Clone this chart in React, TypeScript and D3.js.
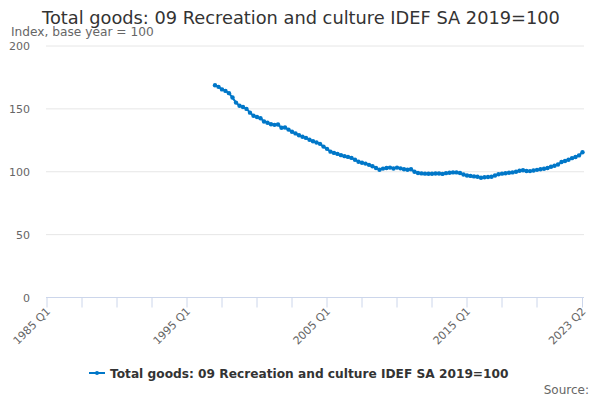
import { useMemo } from "react";
import * as d3 from "d3";

const W = 600;
const H = 400;

const TITLE = "Total goods: 09 Recreation and culture IDEF SA 2019=100";
const SUBTITLE = "Index, base year = 100";
const SERIES_NAME = "Total goods: 09 Recreation and culture IDEF SA 2019=100";

// quarter categories 1985 Q1 .. 2023 Q2
const quarters: string[] = [];
for (let y = 1985; y <= 2023; y++) {
  for (let q = 1; q <= 4; q++) {
    if (y === 2023 && q > 2) break;
    quarters.push(`${y} Q${q}`);
  }
}

const firstQuarter = "1997 Q1";

// index values, 1997 Q1 .. 2023 Q2
const values = [
  168.8, 167.5, 165.5, 164.3, 162.5, 159.0, 155.0, 152.5,
  151.5, 150.0, 147.0, 144.5, 143.5, 142.5, 140.0, 139.0,
  137.8, 137.3, 137.6, 135.0, 135.2, 133.5, 131.8, 130.5,
  129.0, 127.8, 126.9, 125.5, 124.2, 123.3, 122.2, 120.0,
  118.2, 116.0, 115.0, 114.2, 113.2, 112.4, 111.8, 111.0,
  109.6, 108.0, 107.2, 106.5, 105.5, 104.4, 103.0, 101.6,
  102.5, 103.0, 103.3, 102.6, 103.3, 102.7, 102.0, 101.6,
  102.0, 100.0, 99.0, 98.7, 98.5, 98.4, 98.4, 98.6,
  98.6, 98.3, 98.9, 99.2, 99.5, 99.5, 99.0, 97.8,
  97.0, 96.7, 96.3, 96.0, 95.2, 95.6, 95.8, 96.0,
  97.0, 98.0, 98.5, 98.8, 99.2, 99.5, 100.0, 100.8,
  101.2, 100.6, 100.5, 101.0, 101.5, 102.0, 102.4, 103.0,
  104.0, 104.8, 105.8, 107.8, 108.6, 109.5, 110.8, 111.7,
  113.0, 115.5,
];

const yTicks = [0, 50, 100, 150, 200];
const xLabelTicks = ["1985 Q1", "1995 Q1", "2005 Q1", "2015 Q1", "2023 Q2"];

const BLUE = "#0077c8";
const FONT = "DejaVu Sans, sans-serif";

export default function App() {
  const plot = { left: 46, right: 584, top: 46, bottom: 297.5 };

  const x = d3.scalePoint<string>().domain(quarters).range([47, 582.5]);
  const y = d3.scaleLinear().domain([0, 200]).range([plot.bottom, plot.top]);

  const start = quarters.indexOf(firstQuarter);
  const points = useMemo(
    () => values.map((v, i) => ({ q: quarters[start + i], v })),
    [start]
  );

  const line = d3
    .line<{ q: string; v: number }>()
    .x((d) => x(d.q) ?? 0)
    .y((d) => y(d.v));

  // minor ticks every 10 quarters, last one replaced by final quarter
  const tickQs = quarters.filter((_, i) => i % 10 === 0 && i < quarters.length - 5);
  tickQs.push(quarters[quarters.length - 1]);

  return (
    <svg
      width={W}
      height={H}
      style={{ position: "absolute", left: 0, top: 0, fontFamily: FONT }}
    >
      <rect width={W} height={H} fill="#fff" />

      <text x={301} y={24} textAnchor="middle" fontSize={17.8} fill="#333">
        {TITLE}
      </text>
      <text x={11} y={35.5} fontSize={12.2} fill="#666">
        {SUBTITLE}
      </text>

      {/* grid + y labels */}
      {yTicks.map((t) => (
        <g key={t}>
          {t > 0 && (
            <line
              x1={plot.left}
              x2={plot.right}
              y1={y(t)}
              y2={y(t)}
              stroke="#e6e6e6"
            />
          )}
          <text
            x={30}
            y={y(t) + 4}
            textAnchor="end"
            fontSize={11}
            fill="#666"
          >
            {t}
          </text>
        </g>
      ))}

      {/* x axis */}
      <line
        x1={plot.left}
        x2={plot.right}
        y1={plot.bottom}
        y2={plot.bottom}
        stroke="#ccd6eb"
      />
      {tickQs.map((q) => (
        <line
          key={q}
          x1={x(q)}
          x2={x(q)}
          y1={plot.bottom}
          y2={plot.bottom + 10}
          stroke="#ccd6eb"
        />
      ))}
      {xLabelTicks.map((q) => {
        const px = (x(q) ?? 0) + 4;
        const py = 312;
        return (
          <text
            key={q}
            x={px}
            y={py}
            textAnchor="end"
            fontSize={11}
            fill="#666"
            transform={`rotate(-45,${px},${py})`}
          >
            {q}
          </text>
        );
      })}

      {/* series */}
      <path d={line(points) ?? ""} fill="none" stroke={BLUE} strokeWidth={2} />
      {points.map((d) => (
        <circle key={d.q} cx={x(d.q)} cy={y(d.v)} r={2.2} fill={BLUE} />
      ))}

      {/* legend */}
      <g>
        <line x1={89} x2={105} y1={373} y2={373} stroke={BLUE} strokeWidth={2} />
        <circle cx={97} cy={373} r={2} fill={BLUE} />
        <text x={110} y={377.5} fontSize={12.2} fontWeight="bold" fill="#333">
          {SERIES_NAME}
        </text>
      </g>

      <text x={589} y={394} textAnchor="end" fontSize={12} fill="#666">
        Source:
      </text>
    </svg>
  );
}
